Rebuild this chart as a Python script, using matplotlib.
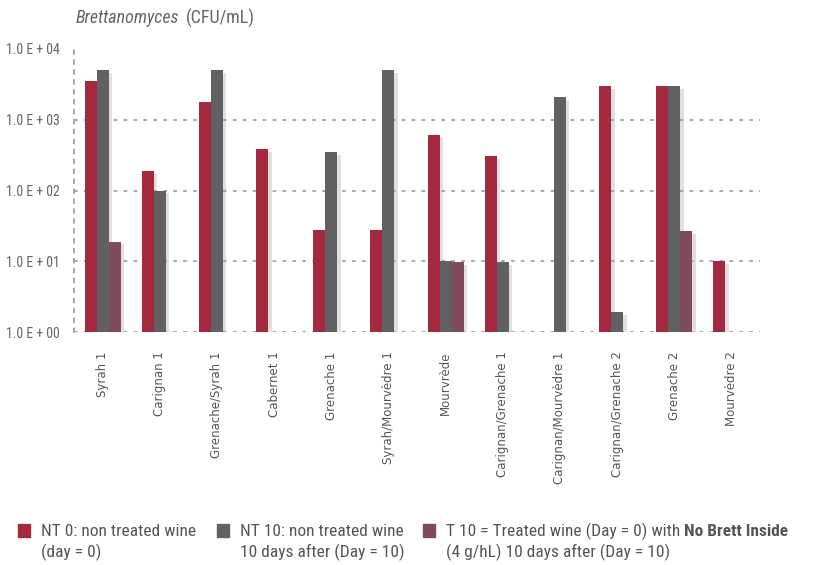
import numpy as np
import matplotlib.pyplot as plt
import matplotlib.patheffects as pe
from matplotlib.ticker import FixedLocator, NullLocator

# Brettanomyces counts (CFU/mL), nan = no bar
wines = ['Syrah 1', 'Carignan 1', 'Grenache/Syrah 1', 'Cabernet 1', 'Grenache 1',
         'Syrah/Mourvèdre 1', 'Mourvrède', 'Carignan/Grenache 1', 'Carignan/Mourvèdre 1',
         'Carignan/Grenache 2', 'Grenache 2', 'Mourvèdre 2']
nt0 = [3500, 190, 1800, 380, 28, 28, 600, 310, np.nan, 3000, 3000, 10]
nt10 = [5000, 100, 5000, np.nan, 350, 5000, 10, 9.8, 2100, 1.9, 3000, np.nan]
t10 = [19, np.nan, np.nan, np.nan, np.nan, np.nan, 9.8, np.nan, np.nan, np.nan, 27, np.nan]

RED = '#a4293f'
GREY = '#616163'
MAUVE = '#804c5c'
TXT = '#666666'
COND = ['Roboto Condensed', 'DejaVu Sans']

fig = plt.figure(figsize=(8.17, 5.65), dpi=100)
ax = fig.add_axes([74 / 817, 1 - 332 / 565, (760 - 74) / 817, (332 - 49) / 565])

x = np.arange(len(wines))
w = 0.21
shadow = [pe.SimplePatchShadow(offset=(2.5, -2), shadow_rgbFace='#999999', alpha=0.3), pe.Normal()]
for off, vals, col in [(-w, nt0, RED), (0, nt10, GREY), (w, t10, MAUVE)]:
    v = np.array(vals, dtype=float)
    ok = ~np.isnan(v)
    bars = ax.bar(x[ok] + off, v[ok] - 1, w, bottom=1, color=col, zorder=3)
    for b in bars:
        b.set_path_effects(shadow)

ax.set_yscale('log')
ax.set_ylim(1, 1e4)
ax.set_xlim(-0.5, len(wines) - 0.5)
ax.yaxis.set_major_locator(FixedLocator([1, 10, 100, 1000, 10000]))
ax.yaxis.set_minor_locator(NullLocator())
ax.set_yticklabels(['1.0 E + 00', '1.0 E + 01', '1.0 E + 02', '1.0 E + 03', '1.0 E + 04'],
                   family=COND, fontsize=10, color=TXT)
ax.tick_params(axis='y', length=0, pad=10)
for yv in [1, 10, 100, 1000]:
    ax.axhline(yv, color='#a0a0a0', lw=1.3, ls=(0, (2, 3.5)), zorder=1)

ax.set_xticks(x)
ax.set_xticklabels(wines, rotation=90, fontsize=8.5, color='#555555', family='DejaVu Sans')
ax.tick_params(axis='x', length=0, pad=14)

for s in ['top', 'right', 'bottom']:
    ax.spines[s].set_visible(False)
ax.spines['left'].set_color('#a0a0a0')
ax.spines['left'].set_linewidth(1.3)
ax.spines['left'].set_linestyle((0, (2, 3.5)))

fig.canvas.draw()
t = fig.text(76 / 817, 1 - 18 / 565, 'Brettanomyces', style='italic', family=COND,
             fontsize=13, color=TXT, va='center')
bb = t.get_window_extent(fig.canvas.get_renderer())
fig.text((bb.x1 + 6) / 817, 1 - 18 / 565, '(CFU/mL)', family=COND,
         fontsize=13, color=TXT, va='center')

# legend at the bottom
legend_items = [
    (18, RED, ['NT 0: non treated wine', '(day = 0)']),
    (217, GREY, ['NT 10: non treated wine', '10 days after (Day = 10)']),
    (423, MAUVE, ['T 10 = Treated wine (Day = 0) with ', '(4 g/hL) 10 days after (Day = 10)']),
]
for lx, col, lines in legend_items:
    fig.patches.append(plt.Rectangle((lx / 817, 1 - 537 / 565), 12 / 817, 13 / 565,
                                     transform=fig.transFigure, color=col))
    for i, line in enumerate(lines):
        t = fig.text((lx + 23) / 817, 1 - (531 + 21 * i) / 565, line, family=COND,
                     fontsize=12.5, color='#555555', va='center')
        if lx == 423 and i == 0:
            bb = t.get_window_extent(fig.canvas.get_renderer())
            fig.text(bb.x1 / 817, 1 - 531 / 565, 'No Brett Inside', family=COND,
                     fontsize=12.5, color='#555555', va='center', weight='bold')

fig.savefig('out.png', dpi=100)
